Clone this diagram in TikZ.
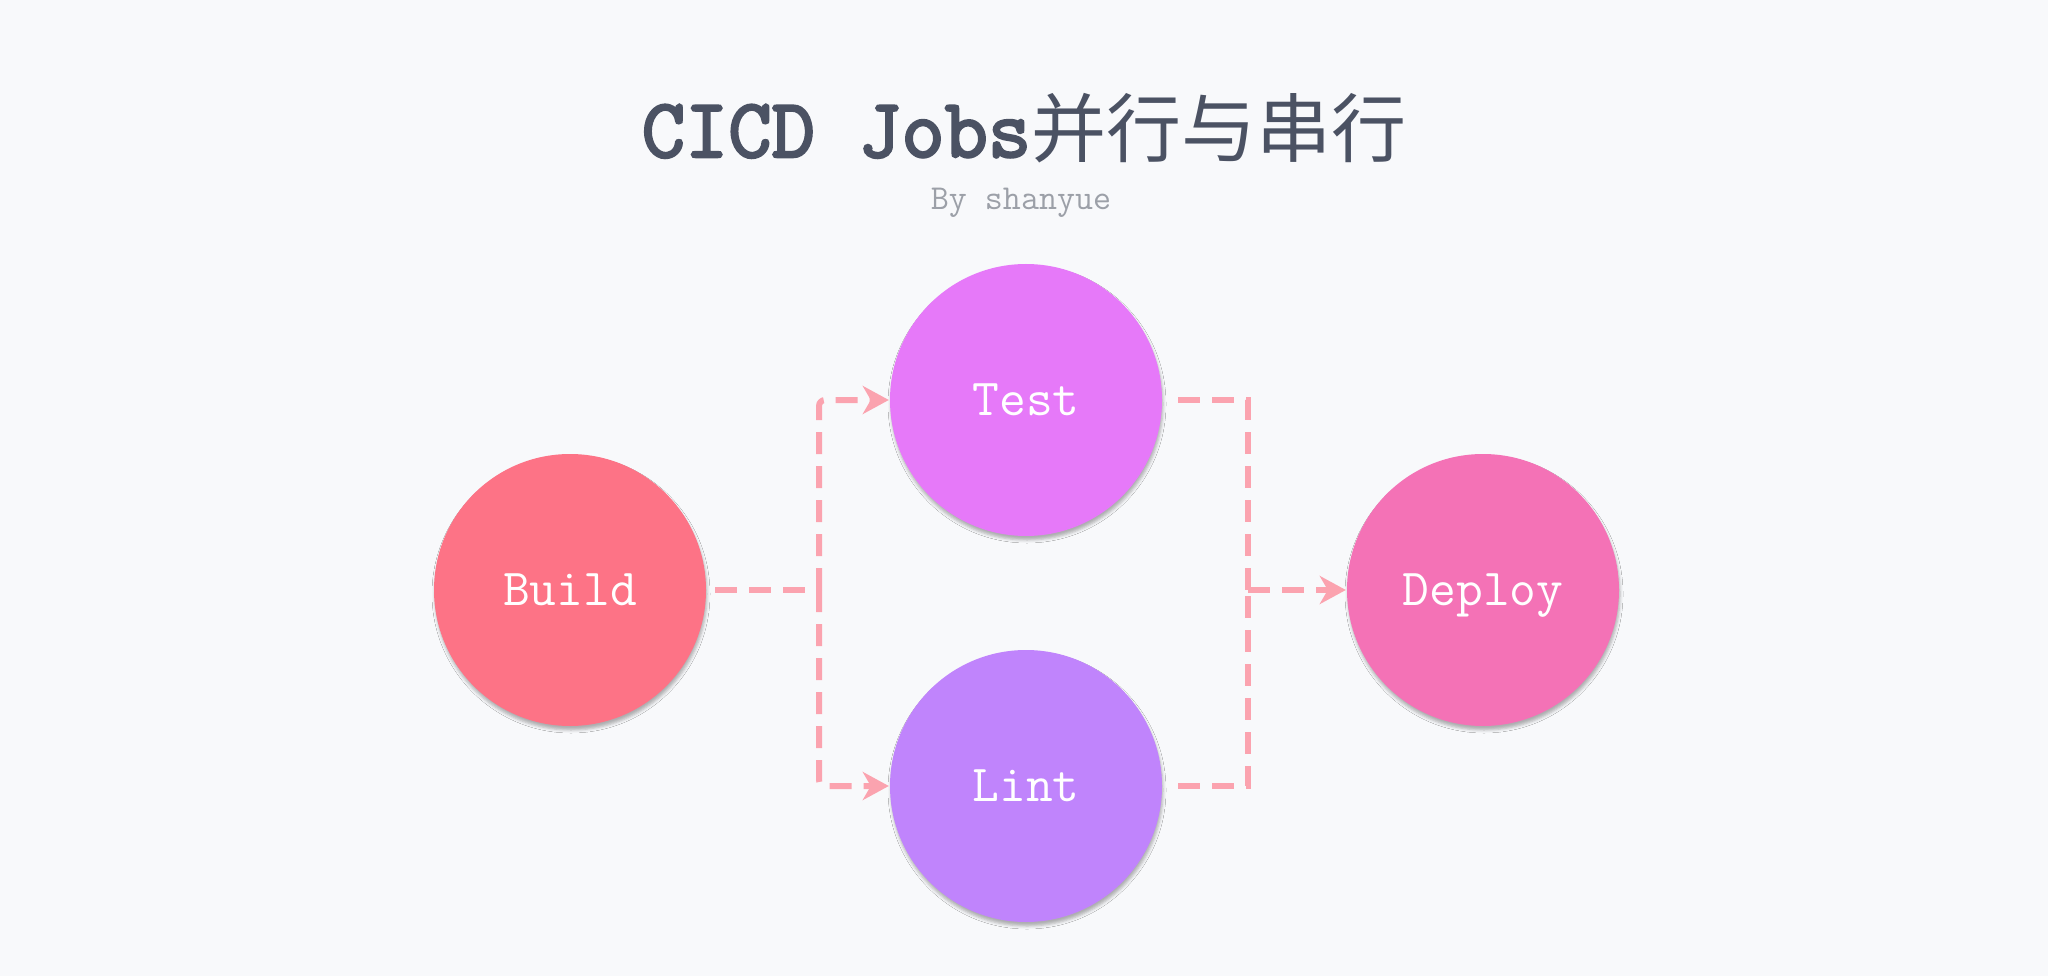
\documentclass[tikz,border=0pt]{standalone}
\usepackage{fontspec}
\newfontfamily\cjkfont{Noto Sans CJK SC}
\newfontfamily\titlefont{Latin Modern Mono}[FakeBold=3]
\usetikzlibrary{arrows.meta,shadows.blur}
\definecolor{bgc}{HTML}{F8F9FB}
\definecolor{titlec}{HTML}{4B5263}
\definecolor{subc}{HTML}{9CA0A8}
\definecolor{buildc}{HTML}{FD7386}
\definecolor{testc}{HTML}{E679F9}
\definecolor{lintc}{HTML}{C084FC}
\definecolor{deployc}{HTML}{F472B6}
\definecolor{linec}{HTML}{FBA3AF}
\tikzset{
  job/.style={circle, minimum size=272pt, inner sep=0pt, fill=#1, text=white,
    font=\ttfamily\fontsize{52}{52}\selectfont, text height=31pt, text depth=0pt,
    blur shadow={shadow xshift=1pt, shadow yshift=-4pt, shadow blur radius=3pt, shadow opacity=30}},
  conn/.style={draw=linec, line width=6pt, dash pattern=on 22pt off 12pt},
  tip/.style={-{Stealth[length=26pt,width=28pt,inset=8pt]}}
}
\begin{document}
\begin{tikzpicture}[x=1pt,y=-1pt]
\useasboundingbox (0,0) rectangle (2048,976);
\fill[bgc] (0,0) rectangle (2048,976);
\node[anchor=base, text=titlec, inner sep=0pt] (title) at (1024,157)
  {\titlefont\fontsize{84}{84}\selectfont CICD Jobs\cjkfont\fontsize{75}{75}\selectfont 并行与串行};
\node[anchor=base, text=subc, inner sep=0pt] (sub) at (1021,210)
  {\ttfamily\fontsize{35}{35}\selectfont By shanyue};
\node[job=buildc] (build) at (570,590) {Build};
\node[job=testc] (test) at (1026,400) {Test};
\node[job=lintc] (lint) at (1026,786) {Lint};
\node[job=deployc] (deploy) at (1483,590) {Deploy};
\coordinate (jl) at (819,590);
\coordinate (jr) at (1248,590);
\draw[conn, shorten <=9pt] (build.east) -- (jl);
\draw[conn, tip, rounded corners=6pt, shorten >=1pt] (jl) |- (test.west);
\draw[conn, tip, rounded corners=6pt, shorten >=1pt] (jl) |- (lint.west);
\draw[conn, shorten <=16pt] (test.east) -| (jr);
\draw[conn, shorten <=16pt] (lint.east) -| (jr);
\draw[conn, tip, shorten >=1pt] (jr) -- (deploy.west);
\end{tikzpicture}
\end{document}
